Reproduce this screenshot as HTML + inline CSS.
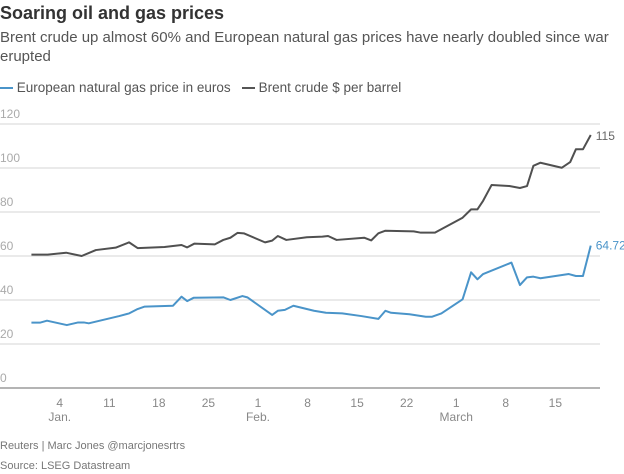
<!DOCTYPE html>
<html><head><meta charset="utf-8"><style>
body{margin:0;width:624px;height:474px;background:#fff;font-family:"Liberation Sans",sans-serif;overflow:hidden;position:relative}
.t{position:absolute;left:0;white-space:nowrap}
</style></head><body>
<div class="t" style="top:3px;font-size:18px;font-weight:bold;color:#333">Soaring oil and gas prices</div>
<div class="t" style="top:28px;font-size:15px;line-height:19px;color:#555;white-space:normal;width:624px">Brent crude up almost 60% and European natural gas prices have nearly doubled since war erupted</div>
<div class="t" style="top:80px;font-size:13.5px;color:#555">
<span><span style="display:inline-block;width:13px;height:2px;background:#4a94c9;vertical-align:middle"></span> European natural gas price in euros</span>&nbsp;&nbsp;
<span><span style="display:inline-block;width:13px;height:2px;background:#555;vertical-align:middle"></span> Brent crude $ per barrel</span></div>
<svg id="c" width="624" height="474" style="position:absolute;left:0;top:0" font-family="Liberation Sans, sans-serif"></svg>
<div class="t" style="top:440px;font-size:11px;color:#777">Reuters | Marc Jones @marcjonesrtrs</div>
<div class="t" style="top:460px;font-size:11px;color:#777">Source: LSEG Datastream</div>
<script>
const yTicks=[0,20,40,60,80,100,120];
const xTickDays=[3,10,17,24,31,38,45,52,59,66,73];
const xTickLabels=["4","11","18","25","1","8","15","22","1","8","15"];
const monthDays=[3,31,59];
const monthLabels=["Jan.","Feb.","March"];
const brentDays=[-1,1.3,3.9,6.1,8.1,10.9,12.8,14,17.8,20.2,21,22,24.9,26.1,27.1,28.1,29,32,33,33.8,35,37.9,40.1,40.9,42.1,46,47,48,49,53,54,56,59.9,61.1,62,62.8,64,66.5,68,69,69.9,70.9,73.9,75.1,75.9,76.9,78];
const brentVals=[60.6,60.6,61.5,60,62.7,63.8,66.2,63.6,64.1,65,63.9,65.6,65.3,67.3,68.3,70.5,70.3,66.2,67,69.1,67.3,68.5,68.8,69.1,67.3,68.3,67.1,70.3,71.5,71.2,70.6,70.6,77.4,81.2,81.2,85.1,92.3,91.8,90.9,91.8,101,102.4,100.1,102.7,108.5,108.5,115];
const gasDays=[-1,0.2,1.2,4,5.6,6.4,7.1,11.4,12.8,14,15,19,20.2,21,21.9,26.1,27.1,28.8,29.5,33,33.8,34.8,36,38.9,40.6,42.9,45.6,48,49,49.8,52.4,54.7,55.6,56.9,59.9,61.1,62,62.8,66.8,68,69,69.9,70.9,74.9,75.9,76.9,78];
const gasVals=[29.7,29.7,30.6,28.6,29.8,29.8,29.4,32.7,33.9,35.9,37,37.4,41.5,39.5,41,41.2,40,41.8,41.2,33.2,35.1,35.5,37.4,35.1,34.2,33.9,32.7,31.4,35.1,34.2,33.5,32.4,32.4,33.9,40.3,52.6,49.4,51.8,57,46.8,50.3,50.6,49.9,51.8,50.9,50.9,64.72];
const X=d=>38.5+d*7.08, Y=v=>388-v*2.2;
const svg=document.getElementById('c'),NS='http://www.w3.org/2000/svg';
function mk(t,a,txt){const e=document.createElementNS(NS,t);for(const k in a)e.setAttribute(k,a[k]);if(txt!=null)e.textContent=txt;svg.appendChild(e);return e;}
yTicks.forEach(v=>{
 if(v>0){const g=mk('line',{x1:0,x2:600,y1:Y(v),y2:Y(v),stroke:'#ddd','stroke-width':1.3});
 
 }
 const t=mk('text',{x:0,y:Y(v)-6,'font-size':12,fill:'#aaa'},v);
 
 
});
const ax=mk('line',{x1:0,x2:600,y1:Y(0),y2:Y(0),stroke:'#888','stroke-width':1.2});


xTickDays.forEach((d,i)=>{
 const t=mk('text',{x:X(d),y:407,'font-size':12,fill:'#888','text-anchor':'middle'},xTickLabels[i]);
 
 
});
monthDays.forEach((d,i)=>{
 const t=mk('text',{x:X(d),y:421,'font-size':12,fill:'#888','text-anchor':'middle'},monthLabels[i]);
 
 
});
function line(days,vals,col,name){
 const p=mk('polyline',{points:days.map((d,i)=>X(d)+','+Y(vals[i])).join(' '),fill:'none',stroke:col,'stroke-width':2,'stroke-linejoin':'round'});
 
 
}
line(gasDays,gasVals,'#4a94c9','gas-price-line');
line(brentDays,brentVals,'#505050','brent-line');
const l1=mk('text',{x:X(brentDays[brentDays.length-1])+5,y:Y(brentVals[brentVals.length-1])+5,'font-size':12,fill:'#666'},brentVals[brentVals.length-1]);


const l2=mk('text',{x:X(gasDays[gasDays.length-1])+5,y:Y(gasVals[gasVals.length-1])+4,'font-size':12,fill:'#4a94c9'},gasVals[gasVals.length-1]);


</script>
</body></html>
